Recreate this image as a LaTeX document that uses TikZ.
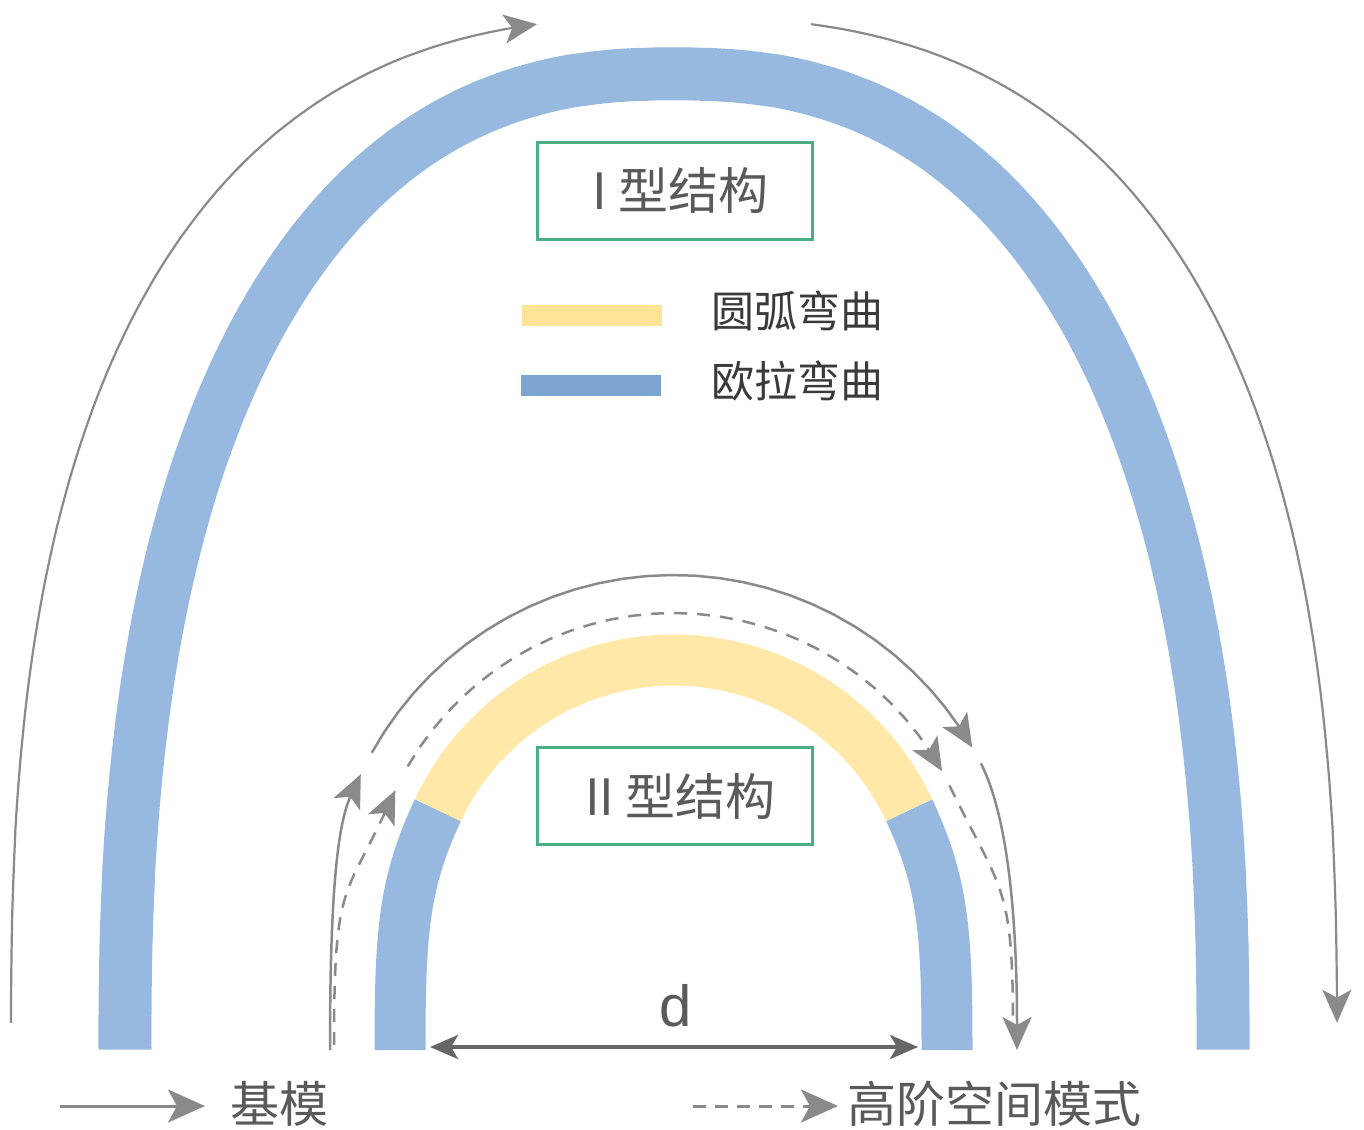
\documentclass[tikz,border=0pt]{standalone}
\usepackage{fontspec}
\setmainfont{Liberation Sans}
\newfontfamily\cjk{Noto Sans CJK SC}
\usetikzlibrary{arrows.meta}
\definecolor{bandblue}{HTML}{97B9DF}
\definecolor{legblue}{HTML}{7DA5D1}
\definecolor{bandyellow}{HTML}{FFE8A8}
\definecolor{legyellow}{HTML}{FFE396}
\definecolor{boxgreen}{HTML}{4CAF84}
\definecolor{arrowgray}{HTML}{8A8A8A}
\definecolor{txtgray}{HTML}{5A5A5A}
\definecolor{legtxt}{HTML}{3A3A3A}
\definecolor{darrowgray}{HTML}{666666}
\begin{document}
\begin{tikzpicture}[x=1pt,y=-1pt,
  band/.style={line width=53pt, line cap=butt, line join=round},
  bandii/.style={line width=51pt, line cap=butt, line join=round},
  mode/.style={draw=arrowgray, line width=2.5pt},
  bigmode/.style={draw=arrowgray, line width=2.2pt},
  hmode/.style={draw=arrowgray, line width=2.5pt, dash pattern=on 13pt off 10pt},
  tipend/.style={-{Stealth[length=33pt,width=29pt,inset=8pt]}},
  legtip/.style={-{Stealth[length=37pt,width=33pt,inset=9pt]}},
  box/.style={draw=boxgreen, line width=3pt, minimum width=275pt, minimum height=97pt,
    inner sep=0pt, font=\cjk\fontsize{50}{54}\selectfont, text=txtgray},
  legtext/.style={inner sep=0pt, font=\cjk\fontsize{43}{46}\selectfont, text=legtxt, anchor=west},
  bottext/.style={inner sep=0pt, font=\cjk\fontsize{49}{52}\selectfont, text=txtgray, anchor=west},
  legbar/.style={minimum width=140pt, minimum height=21pt, inner sep=0pt},
  darrow/.style={draw=darrowgray, line width=4pt,
    {Stealth[length=28pt,width=24pt,inset=7pt]}-{Stealth[length=28pt,width=24pt,inset=7pt]}}
]
\useasboundingbox (0,0) rectangle (1364,1129);
\fill[white] (0,0) rectangle (1364,1129);

% outer fundamental-mode arrows (type I)
\draw[bigmode, tipend] plot[domain=0.5:82.8, samples=70, variable=\t]
  ({674-663*pow(max(abs(cos(\t)),0.0001),0.769)}, {1050-1032*pow(max(abs(sin(\t)),0.0001),0.769)});
\draw[bigmode, tipend] plot[domain=97.2:179.5, samples=70, variable=\t]
  ({674+663*pow(max(abs(cos(\t)),0.0001),0.769)}, {1050-1032*pow(max(abs(sin(\t)),0.0001),0.769)});

% type I band (Euler bend)
\draw[band, bandblue] plot[domain=0:90, samples=181, variable=\t]
  ({674-549*pow(max(abs(cos(\t)),0.0001),0.8333)}, {1050-976*pow(max(abs(sin(\t)),0.0001),0.8333)})
  -- plot[domain=90:180, samples=181, variable=\t]
  ({674+549*pow(max(abs(cos(\t)),0.0001),0.8333)}, {1050-976*pow(max(abs(sin(\t)),0.0001),0.8333)});

% type II band: Euler legs + circular arc
\draw[bandii, bandblue] (400,1050) .. controls (400,930) and (404.05,882.6) .. (437.86,810.12);
\draw[bandii, bandblue] (947,1050) .. controls (947,930) and (942.95,882.6) .. (909.14,810.12);
\draw[bandii, bandyellow] plot[domain=205:335, samples=66, variable=\t]
  ({673.5+260*cos(\t)}, {920+260*sin(\t)});

% type II fundamental mode (solid)
\draw[mode, tipend] (330,1050) .. controls (330,927) and (334.3,831) .. (360.8,774.2);
\draw[mode, tipend] plot[domain=209:330, samples=31, variable=\t]
  ({673.5+345*cos(\t)}, {920+345*sin(\t)});
\draw[mode, tipend] (980.9,763.4) .. controls (1009.4,819.3) and (1017,927) .. (1017,1050);

% type II higher-order mode (dashed)
\draw[hmode, tipend] (334,1045) .. controls (334,883) and (344.6,899) .. (395.3,790.3);
\draw[hmode, tipend] plot[domain=210:331, samples=31, variable=\t]
  ({673.5+307*cos(\t)}, {920+307*sin(\t)});
\draw[hmode] (949.4,785.4) .. controls (1002,893.3) and (1013,883) .. (1013,1030);

% labels boxes
\node[box] (typeI) at (674.5,190.5) {\hspace*{12pt}I 型结构};
\node[box] (typeII) at (674.5,796) {\hspace*{12pt}II 型结构};

% legend
\node[legbar, fill=legyellow] (barA) at (592,315) {};
\node[legbar, fill=legblue] (barB) at (591,385) {};
\node[legtext] (txtA) at (711,311) {圆弧弯曲};
\node[legtext] (txtB) at (711,381) {欧拉弯曲};

% width d
\coordinate (dL) at (430,1047);
\coordinate (dR) at (918,1047);
\draw[darrow] (dL) -- (dR);
\node[inner sep=0pt, font=\fontsize{58}{60}\selectfont, text=txtgray] (dlab) at (676,1006) {d};

% bottom legend
\coordinate (sA) at (60,1106);
\coordinate (sB) at (205,1106);
\draw[draw=arrowgray, line width=3pt, legtip] (sA) -- (sB);
\node[bottext] (fund) at (230,1104) {基模};
\coordinate (hA) at (693,1106);
\coordinate (hB) at (838,1106);
\draw[draw=arrowgray, line width=3pt, dash pattern=on 13pt off 9pt, legtip] (hA) -- (hB);
\node[bottext] (hom) at (847,1104) {高阶空间模式};
\end{tikzpicture}
\end{document}
